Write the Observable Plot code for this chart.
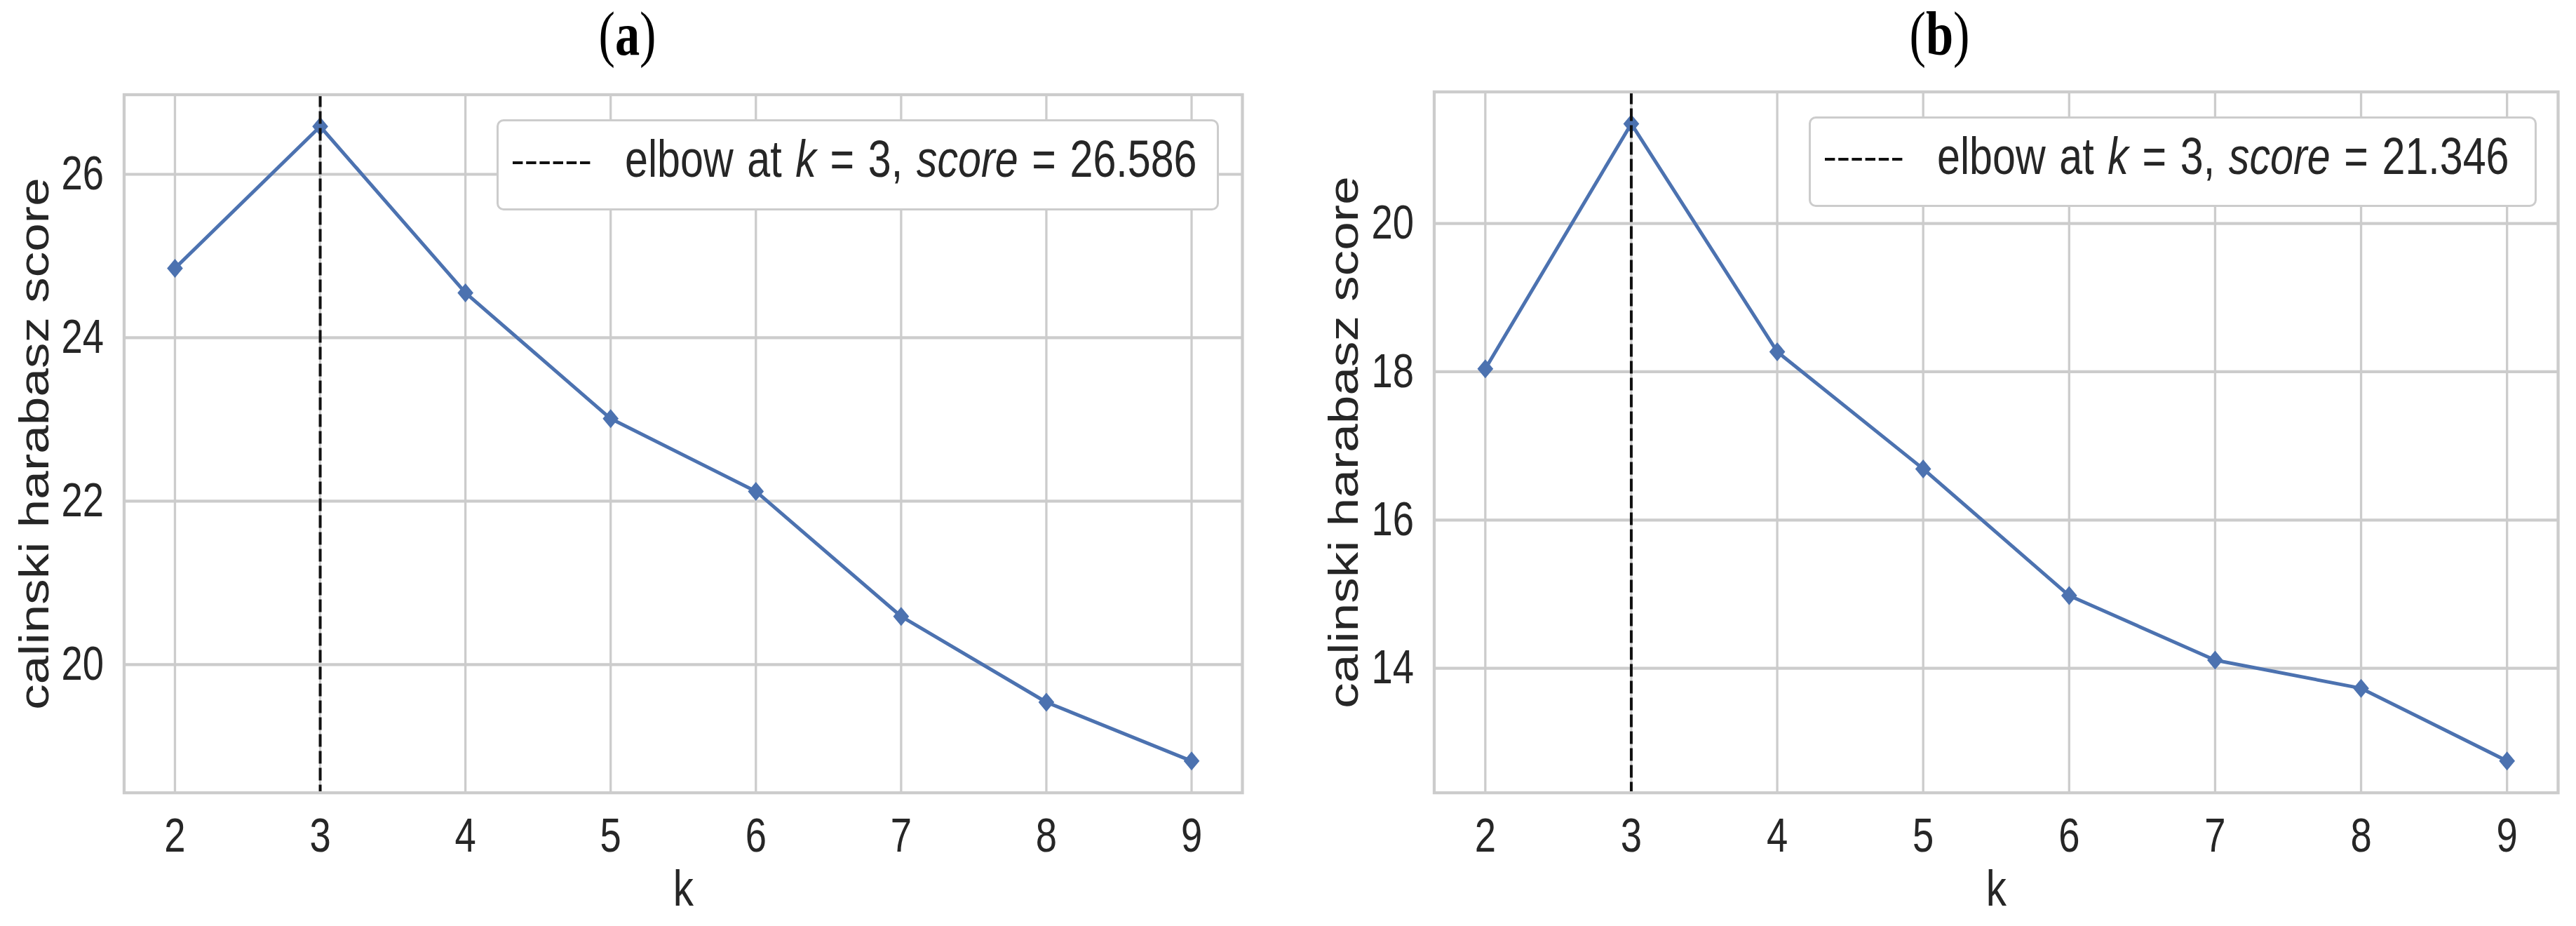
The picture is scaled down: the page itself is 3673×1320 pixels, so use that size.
<!DOCTYPE html>
<html><head><meta charset="utf-8">
<script src="https://cdn.jsdelivr.net/npm/d3@7"></script>
<script src="https://cdn.jsdelivr.net/npm/@observablehq/plot@0.6"></script>
<style>
html,body{margin:0;padding:0;background:#fff;}
#root{position:relative;width:3673px;height:1320px;overflow:hidden;background:#fff;}
.panel{position:absolute;top:0;height:1320px;}
.panel svg.chart{position:absolute;left:0;top:0;}
.legend{position:absolute;box-sizing:border-box;border:3px solid #cccccc;border-radius:10px;background:#fff;}
.legend .txt{position:absolute;font-family:"Liberation Sans",Arial,sans-serif;font-size:74px;color:#262626;white-space:nowrap;transform-origin:0 0;transform:scaleX(0.8);line-height:1;word-spacing:4px;}
.legend svg{position:absolute;}
</style></head><body><div id="root"></div>
<script>
// ---- data ----
const ks = [2, 3, 4, 5, 6, 7, 8, 9];
const scoresA = [24.85, 26.586, 24.55, 23.01, 22.12, 20.59, 19.54, 18.82];
const scoresB = [18.04, 21.346, 18.27, 16.69, 14.98, 14.11, 13.73, 12.75];
const yTicksA = [20, 22, 24, 26];
const yTicksB = [14, 16, 18, 20];
const elbowK = [3, 3];
const elbowScore = ["26.586", "21.346"];
const panelLetters = ["a", "b"];
const xLabel = "k";
const yLabel = "calinski harabasz score";

const SQUISH = 0.8;
const thinDiamond = {
  draw(context, size) {
    const h = Math.sqrt(size / Math.PI), w = h * 0.84;
    context.moveTo(0, -h); context.lineTo(w, 0); context.lineTo(0, h); context.lineTo(-w, 0); context.closePath();
  }
};

function squishTexts(svg, f) {
  svg.querySelectorAll("text").forEach(t => {
    const tr = t.getAttribute("transform") || "";
    const m = tr.match(/^\s*translate\(\s*([-\d.e]+)[,\s]+([-\d.e]+)\s*\)(.*)$/);
    if (m) t.setAttribute("transform", `translate(${m[1]},${m[2]}) scale(${f},1)${m[3]}`);
  });
}

function makePanel(cfg) {
  const {scores, yTicks, elbow, score, letter, left, width, mL, mR, mT, mB, yLabelDx, titleCx, legend} = cfg;
  const data = ks.map((k, i) => ({k, score: scores[i]}));
  const lo = d3.min(scores), hi = d3.max(scores), pad = (hi - lo) * 0.05;
  const xlo = d3.min(ks), xhi = d3.max(ks), xpad = (xhi - xlo) * 0.05;
  const fmt = d => String(d);
  const frameCx = (mL + (width - mR)) / 2;
  const svg = Plot.plot({
    width, height: 1320,
    marginLeft: mL, marginRight: mR, marginTop: mT, marginBottom: mB,
    style: {fontFamily: '"Liberation Sans", Arial, sans-serif', color: "#262626", background: "#fff", overflow: "visible"},
    x: {domain: [xlo - xpad, xhi + xpad]},
    y: {domain: [lo - pad, hi + pad]},
    marks: [
      Plot.gridY(yTicks, {stroke: "#cccccc", strokeOpacity: 1, strokeWidth: 4.2}),
      Plot.gridX(ks, {stroke: "#cccccc", strokeOpacity: 1, strokeWidth: 3.3}),
      Plot.line(data, {x: "k", y: "score", stroke: "#4c72b0", strokeWidth: 5}),
      Plot.dot(data, {x: "k", y: "score", symbol: thinDiamond, r: 13.5, fill: "#4c72b0"}),
      Plot.ruleX([elbow], {stroke: "#111111", strokeWidth: 4, strokeDasharray: "18,6"}),
      Plot.frame({stroke: "#cccccc", strokeWidth: 4.3}),
      Plot.axisX(ks, {tickSize: 0, tickPadding: 35.4, fontSize: 68, label: null, tickFormat: fmt}),
      Plot.axisY(yTicks, {tickSize: 0, tickPadding: 29, fontSize: 68, label: null, tickFormat: fmt}),
      Plot.text([xLabel], {text: d => d, frameAnchor: "bottom", lineAnchor: "bottom", textAnchor: "middle", dy: 160.4, fontSize: 73}),
      Plot.text([yLabel], {text: d => d, frameAnchor: "left", lineAnchor: "bottom", textAnchor: "middle", rotate: -90, dx: yLabelDx, fontSize: 73}),
      Plot.text([letter], {text: d => `(${d})`, frameAnchor: "top", lineAnchor: "bottom", textAnchor: "middle",
        dx: titleCx - frameCx, dy: 77 - mT, fontSize: 88, fontFamily: '"Liberation Serif", "DejaVu Serif", serif', fill: "#000", className: "ptitle"})
    ]
  });
  svg.classList.add("chart");
  squishTexts(svg, SQUISH);
  // bold letter inside normal-weight parentheses
  svg.querySelectorAll(".ptitle text").forEach(t => {
    const s = t.textContent;
    t.textContent = "";
    const ns = "http://www.w3.org/2000/svg";
    const parts = [["(", "normal"], [s.slice(1, -1), "bold"], [")", "normal"]];
    parts.forEach(([str, w]) => {
      const ts = document.createElementNS(ns, "tspan");
      ts.setAttribute("font-weight", w);
      ts.textContent = str;
      t.appendChild(ts);
    });
  });

  const panel = document.createElement("div");
  panel.className = "panel";
  panel.style.left = left + "px";
  panel.style.width = width + "px";
  panel.appendChild(svg);

  // legend
  const lg = document.createElement("div");
  lg.className = "legend";
  lg.style.left = legend.x1 + "px";
  lg.style.top = legend.y1 + "px";
  lg.style.width = (legend.x2 - legend.x1) + "px";
  lg.style.height = (legend.y2 - legend.y1) + "px";
  const ns = "http://www.w3.org/2000/svg";
  const ls = document.createElementNS(ns, "svg");
  ls.setAttribute("width", 116); ls.setAttribute("height", 8);
  ls.style.left = "20px"; ls.style.top = "54.7px";
  const ln = document.createElementNS(ns, "line");
  ln.setAttribute("x1", 0); ln.setAttribute("x2", 114); ln.setAttribute("y1", 4); ln.setAttribute("y2", 4);
  ln.setAttribute("stroke", "#111111"); ln.setAttribute("stroke-width", 4); ln.setAttribute("stroke-dasharray", "14.4,4.8");
  ls.appendChild(ln);
  lg.appendChild(ls);
  const txt = document.createElement("div");
  txt.className = "txt";
  txt.innerHTML = `elbow at <i>k</i> = ${elbowK[panelLetters.indexOf(letter)]}, <i>score</i> = ${score}`;
  txt.style.left = "180px";
  txt.style.top = (83 - 3 - 0.8465 * 74) + "px";
  lg.appendChild(txt);
  panel.appendChild(lg);

  document.getElementById("root").appendChild(panel);
}

makePanel({scores: scoresA, yTicks: yTicksA, elbow: elbowK[0], score: elbowScore[0], letter: panelLetters[0],
  left: 0, width: 1836, mL: 176.5, mR: 1836 - 1771, mT: 134.5, mB: 1320 - 1129.6, yLabelDx: -108.5, titleCx: 894,
  legend: {x1: 707.7, x2: 1738, y1: 170, y2: 300}});
makePanel({scores: scoresB, yTicks: yTicksB, elbow: elbowK[1], score: elbowScore[1], letter: panelLetters[1],
  left: 1836, width: 1837, mL: 208.5, mR: 1837 - (3647 - 1836), mT: 130.5, mB: 1320 - 1129.6, yLabelDx: -109.5, titleCx: 929,
  legend: {x1: 2579 - 1836, x2: 3616.6 - 1836, y1: 165.7, y2: 295}});
</script>
</body></html>
